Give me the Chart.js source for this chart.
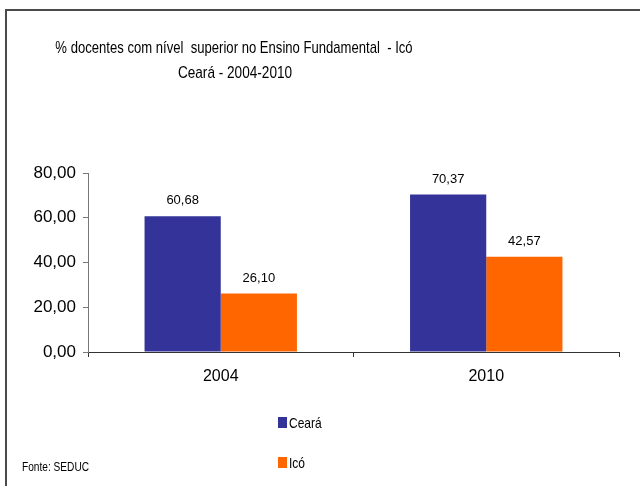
<!DOCTYPE html>
<html>
<head>
<meta charset="utf-8">
<script src="https://cdn.jsdelivr.net/npm/chart.js@4.4.1/dist/chart.umd.min.js"></script>
<style>
    html, body { margin: 0; padding: 0; background: #fff; }
    #wrap { width: 640px; height: 486px; position: relative; }
</style>
</head>
<body>
<div id="wrap"><canvas id="chart"></canvas></div>
<script>
// Data
const years = ['2004', '2010'];
const cearaValues = [60.68, 70.37];
const icoValues = [26.10, 42.57];
const yTicks = [0, 20, 40, 60, 80];
const titleLines = ['% docentes com nível  superior no Ensino Fundamental  - Icó', 'Ceará - 2004-2010'];
const sourceText = 'Fonte: SEDUC';

const FONT = '"Liberation Sans", Arial, sans-serif';

function fmt(v) {
    return v.toFixed(2).replace('.', ',');
}

// draw text squeezed horizontally, like the narrow font of the original
function narrowText(ctx, text, x, y, size, sx, align) {
    ctx.save();
    ctx.font = size + 'px ' + FONT;
    ctx.fillStyle = '#000';
    ctx.textBaseline = 'alphabetic';
    ctx.textAlign = align || 'left';
    ctx.translate(x, y);
    ctx.scale(sx, 1);
    ctx.fillText(text, 0, 0);
    ctx.restore();
}

/**
 * Frame, title, value labels, legend and source note
 */
const decorPlugin = {
    id: 'decor',
    beforeDraw(chart) {
        const ctx = chart.ctx;
        ctx.save();
        ctx.fillStyle = '#fff';
        ctx.fillRect(0, 0, chart.width, chart.height);
        ctx.strokeStyle = '#4a4a4a';
        ctx.lineWidth = 2;
        ctx.beginPath();
        ctx.moveTo(6, chart.height);
        ctx.lineTo(6, 10);
        ctx.lineTo(chart.width, 10);
        ctx.stroke();
        ctx.restore();
    },
    afterDraw(chart) {
        const ctx = chart.ctx;

        // title
        narrowText(ctx, titleLines[0], 234, 53, 17, 0.77, 'center');
        narrowText(ctx, titleLines[1], 235, 78, 17, 0.8, 'center');

        // value labels above bars
        ctx.save();
        ctx.font = '13px ' + FONT;
        ctx.fillStyle = '#000';
        ctx.textAlign = 'center';
        ctx.textBaseline = 'alphabetic';
        chart.data.datasets.forEach((ds, i) => {
            chart.getDatasetMeta(i).data.forEach((bar, j) => {
                ctx.fillText(fmt(ds.data[j]), bar.x, bar.y - 12);
            });
        });
        ctx.restore();

        // legend (vertical)
        chart.data.datasets.forEach((ds, i) => {
            const y = 417 + i * 40;
            ctx.fillStyle = ds.backgroundColor;
            ctx.fillRect(278, y, 9, 11);
            narrowText(ctx, ds.label, 289, y + 11, 15, 0.8, 'left');
        });

        // source
        narrowText(ctx, sourceText, 22, 471, 13, 0.78, 'left');
    }
};

new Chart(document.getElementById('chart'), {
    type: 'bar',
    data: {
        labels: years,
        datasets: [
            { label: 'Ceará', data: cearaValues, backgroundColor: '#333399' },
            { label: 'Icó', data: icoValues, backgroundColor: '#FF6600' }
        ]
    },
    options: {
        responsive: true,
        maintainAspectRatio: false,
        animation: false,
        categoryPercentage: 0.574,
        barPercentage: 1,
        layout: {
            padding: { top: 173, left: 0, right: 21, bottom: 94 }
        },
        plugins: {
            legend: { display: false },
            title: { display: false },
            tooltip: { enabled: false }
        },
        scales: {
            x: {
                grid: {
                    offset: true,
                    drawOnChartArea: false,
                    drawTicks: true,
                    tickLength: 5,
                    color: '#333'
                },
                border: { display: true, color: '#333', width: 1 },
                ticks: {
                    color: '#000',
                    font: { family: FONT, size: 16 },
                    padding: 10
                },
                afterFit(scale) { scale.height = 40; }
            },
            y: {
                min: 0,
                max: 80,
                afterBuildTicks(scale) {
                    scale.ticks = yTicks.map(v => ({ value: v }));
                },
                grid: {
                    drawOnChartArea: false,
                    drawTicks: true,
                    tickLength: 5,
                    color: '#777'
                },
                border: { display: true, color: '#777', width: 1 },
                ticks: {
                    color: '#000',
                    font: { family: FONT, size: 17 },
                    padding: 7,
                    callback: v => fmt(v)
                },
                afterFit(scale) { scale.width = 88; }
            }
        }
    },
    plugins: [decorPlugin]
});
</script>
</body>
</html>
